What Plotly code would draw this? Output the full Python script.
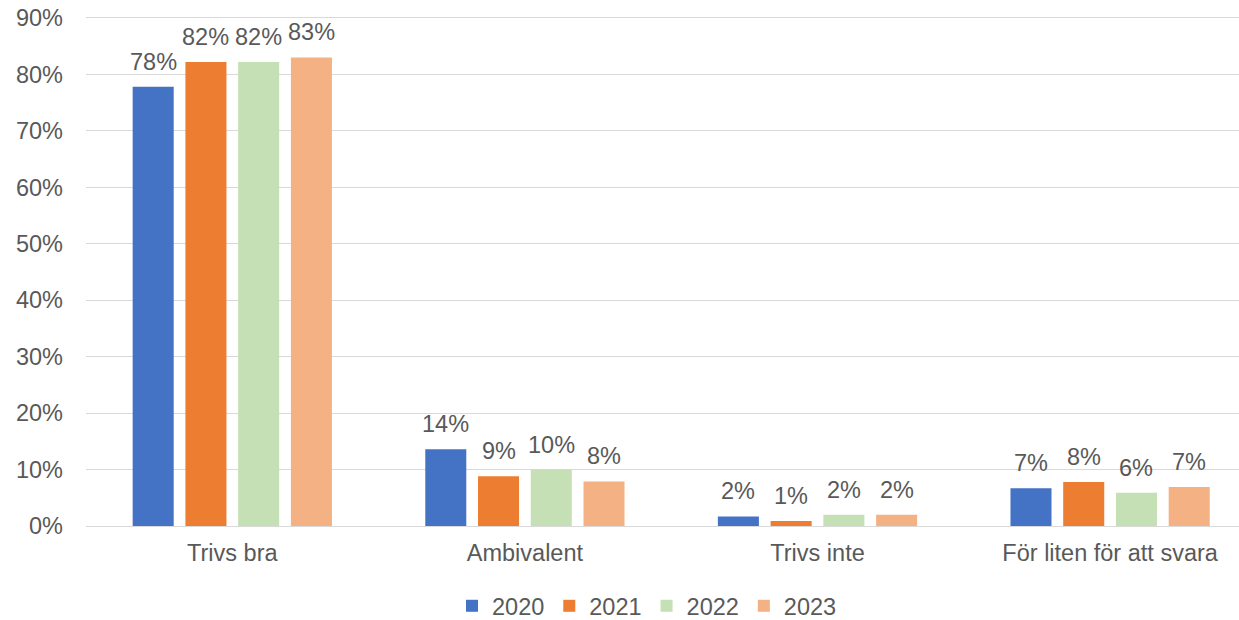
import plotly.graph_objects as go

categories = ["Trivs bra", "Ambivalent", "Trivs inte", "För liten för att svara"]
years = ["2020", "2021", "2022", "2023"]
values_2020 = [0.778, 0.136, 0.017, 0.067]
values_2021 = [0.822, 0.088, 0.009, 0.078]
values_2022 = [0.822, 0.100, 0.020, 0.059]
values_2023 = [0.830, 0.079, 0.020, 0.069]
series = [values_2020, values_2021, values_2022, values_2023]
colors = ["#4472C4", "#ED7D31", "#C5E0B4", "#F4B183"]
y_ticks = [0, 0.1, 0.2, 0.3, 0.4, 0.5, 0.6, 0.7, 0.8, 0.9]

FONT = "Liberation Sans, Arial, sans-serif"
TXT = "#595959"
FS = 23.5

W, H = 1239, 620
ML, MR, MT, MB = 86, 0, 16, 94
Y_MAX = 0.9035

fig = go.Figure()
for name, vals, col in zip(years, series, colors):
    fig.add_trace(go.Bar(
        x=categories, y=vals, name=name,
        marker=dict(color=col, line=dict(width=0)),
        hoverinfo="x+y+name",
    ))

# data labels above bars
plot_w = W - ML - MR
x_range = [-0.5, -0.5 + plot_w / 292.6]
px_per_cat = plot_w / (x_range[1] - x_range[0])
bargap = 0.279
slot = px_per_cat * (1 - bargap) / len(series)
for i, vals in enumerate(series):
    for cat, v in zip(categories, vals):
        fig.add_annotation(
            x=cat, y=v, xref="x", yref="y",
            text=f"{round(v * 100)}%",
            showarrow=False, yanchor="bottom",
            xshift=(i - (len(series) - 1) / 2) * slot,
            yshift=10,
            font=dict(family=FONT, size=FS, color=TXT),
        )

plot_h = H - MT - MB
fig.update_layout(
    width=W, height=H,
    margin=dict(l=ML, r=MR, t=MT, b=MB, autoexpand=False),
    paper_bgcolor="white", plot_bgcolor="white",
    barmode="group", bargap=bargap, bargroupgap=0.222,
    font=dict(family=FONT, size=FS, color=TXT),
    legend=dict(
        orientation="h", x=(647 - ML) / plot_w, xanchor="center",
        y=-(606 - (H - MB)) / plot_h, yanchor="middle",
        font=dict(family=FONT, size=FS, color=TXT),
        itemwidth=30, tracegroupgap=0,
    ),
    showlegend=True,
)
fig.update_xaxes(
    range=x_range, showgrid=False, showline=False, zeroline=False,
    ticks="", ticklabelstandoff=10, automargin=False,
    tickfont=dict(family=FONT, size=FS, color=TXT),
)
fig.update_yaxes(
    range=[0, Y_MAX], tickvals=y_ticks, tickformat=".0%",
    showgrid=True, gridcolor="#D9D9D9", gridwidth=1,
    zeroline=True, zerolinecolor="#D9D9D9", zerolinewidth=1,
    showline=False, ticks="", ticklabelstandoff=22, automargin=False,
    tickfont=dict(family=FONT, size=FS, color=TXT),
)

fig.write_html(
    "out.html",
    config={"displayModeBar": False},
    post_script="document.body.style.margin='0';document.body.style.padding='0';document.body.style.overflow='hidden';",
)
